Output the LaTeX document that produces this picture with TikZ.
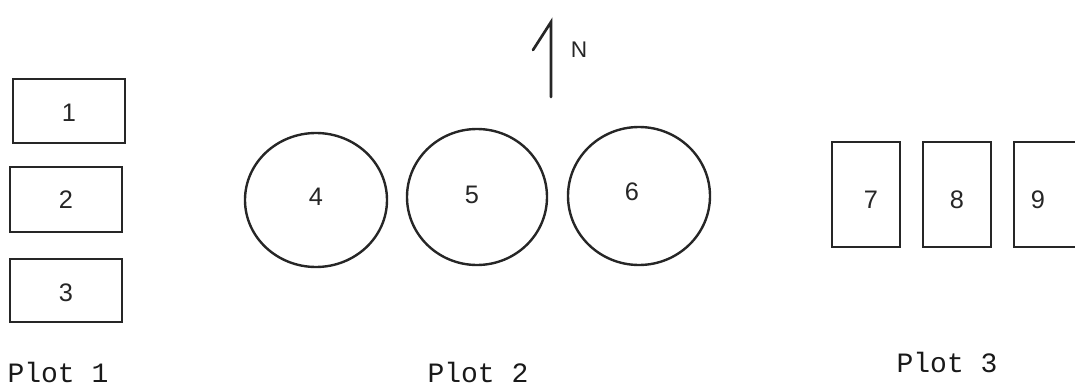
\documentclass[tikz,border=0pt]{standalone}
\usepackage{fontspec}
\setmonofont{Liberation Mono}
\newfontfamily\digitfont{Liberation Sans}
\begin{document}
\begin{tikzpicture}[x=0.75pt,y=-0.75pt,
  outline/.style={draw=black!85,line width=1.8pt},
  num/.style={font=\digitfont\fontsize{19}{19}\selectfont,text=black!85},
  plotlabel/.style={font=\ttfamily\fontsize{21}{21}\selectfont,text=black!90}]
\useasboundingbox (0,0) rectangle (1075,389);
% Plot 1
\draw[outline] (13,79) rectangle (125,143);
\draw[outline] (10,167) rectangle (122,232);
\draw[outline] (10,259) rectangle (122,322);
\node[num] (n1) at (69,113) {1};
\node[num] (n2) at (66,200) {2};
\node[num] (n3) at (66,293) {3};
\node[plotlabel] (p1) at (58,372) {Plot 1};
% Plot 2
\draw[outline] (316,200) ellipse [x radius=71,y radius=67];
\draw[outline] (477,197) ellipse [x radius=70,y radius=68];
\draw[outline] (639,196) ellipse [x radius=71,y radius=69];
\node[num] (n4) at (316,197) {4};
\node[num] (n5) at (472,195) {5};
\node[num] (n6) at (632,192) {6};
\node[plotlabel] (p2) at (478,372) {Plot 2};
% North arrow
\coordinate (ntop) at (551,22);
\coordinate (nbot) at (551,97);
\coordinate (ntick) at (533,50);
\draw[black!85,line width=2pt,line cap=round] (nbot) -- (ntop) -- (ntick);
\node[font=\digitfont\fontsize{17}{17}\selectfont,text=black!85] (north) at (579,50) {N};
% Plot 3
\draw[outline] (832,142) rectangle (900,247);
\draw[outline] (923,142) rectangle (991,247);
\draw[outline] (1014,142) rectangle (1082,247);
\node[num] (n7) at (871,200) {7};
\node[num] (n8) at (957,200) {8};
\node[num] (n9) at (1038,200) {9};
\node[plotlabel] (p3) at (947,362) {Plot 3};
\end{tikzpicture}
\end{document}
